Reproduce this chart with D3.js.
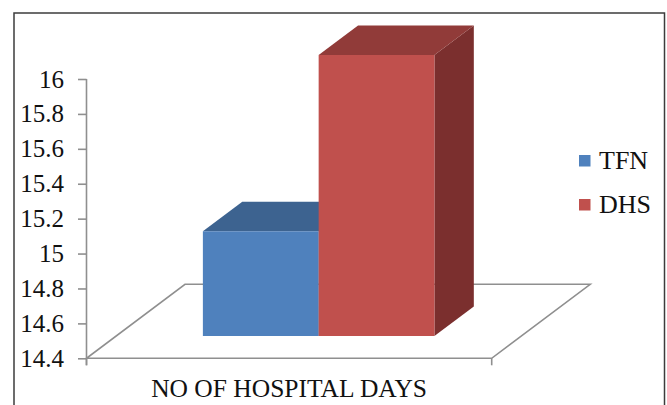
<!DOCTYPE html>
<html>
<head>
<meta charset="utf-8">
<script src="https://cdn.jsdelivr.net/npm/d3@7"></script>
<style>
  html, body { margin: 0; padding: 0; background: #fff; }
  svg { display: block; }
</style>
</head>
<body>
<svg id="chart" width="667" height="405"></svg>
<script>
// Data
const categories = ["NO OF HOSPITAL DAYS"];
const seriesNames = ["TFN", "DHS"];
const seriesValues = [15.0, 16.01];
const yTicks = [14.4, 14.6, 14.8, 15.0, 15.2, 15.4, 15.6, 15.8, 16.0];

// Face colours per series: front, top, side
const frontColors = ["#4f81bd", "#c0504d"];
const topColors = ["#3d6390", "#913b39"];
const sideColors = ["#34557c", "#7b2f2e"];

const FONT = "'Liberation Serif'";
const svg = d3.select("#chart").attr("font-family", FONT);

// Outer frame
svg.append("rect")
  .attr("x", 14).attr("y", 13)
  .attr("width", 650.5).attr("height", 420)
  .attr("fill", "none").attr("stroke", "#3c3c3c").attr("stroke-width", 1.5);

// Plot geometry (oblique 3-D projection)
const x0 = 86.5, x1 = 491.7;
const yTop = 79, yBase = 358.3;
const depth = [98.5, -74];           // floor depth vector
const barFront = 0.3, barBack = 0.7; // bar slab within the depth

const x = d3.scaleBand().domain(categories).range([x0, x1]).padding(0);
const xs = d3.scaleBand().domain(seriesNames).range([0, x.bandwidth()])
  .paddingInner(0).paddingOuter(0.75);
const y = d3.scaleLinear().domain([14.4, 16]).range([yBase, yTop]);

const gray = "#8f8f8f";

// Floor
const P = (px, py, d) => [px + depth[0] * d, py + depth[1] * d];
const floorPts = [P(x0, yBase, 0), P(x1, yBase, 0), P(x1, yBase, 1), P(x0, yBase, 1)];
svg.append("path")
  .attr("d", d3.line()(floorPts) + "Z")
  .attr("fill", "none").attr("stroke", gray).attr("stroke-width", 1.6)
  .attr("stroke-linejoin", "miter");

// Category tick marks below the floor front edge
[x0, x1].forEach(tx => {
  svg.append("line")
    .attr("x1", tx).attr("x2", tx).attr("y1", yBase).attr("y2", yBase + 7)
    .attr("stroke", gray).attr("stroke-width", 1.6);
});

// Value axis
const yAxis = d3.axisLeft(y)
  .tickValues(yTicks)
  .tickSize(8.5)
  .tickPadding(14)
  .tickFormat(d => String(+d.toFixed(1)));

const gy = svg.append("g").attr("transform", `translate(${x0},0)`).call(yAxis)
  .attr("font-family", FONT).attr("font-size", 25);
gy.select(".domain").remove();
gy.selectAll(".tick line").attr("stroke", gray).attr("stroke-width", 1.6);
gy.selectAll(".tick text").attr("fill", "#111").attr("font-family", FONT);
svg.append("line")
  .attr("x1", x0).attr("x2", x0).attr("y1", yTop).attr("y2", yBase + 7)
  .attr("stroke", gray).attr("stroke-width", 1.6);

// Bars (drawn left to right so the next bar hides the previous side)
const cat = categories[0];
seriesNames.forEach((name, i) => {
  const v = seriesValues[i];
  const left = x(cat) + xs(name);
  const right = left + xs.bandwidth();
  const yv = y(v), yb = y(14.4);
  const fl = P(left, yb, barFront), fr = P(right, yb, barFront);
  const tl = P(left, yv, barFront), tr = P(right, yv, barFront);
  const btl = P(left, yv, barBack), btr = P(right, yv, barBack);
  const bbr = P(right, yb, barBack);
  const g = svg.append("g");
  g.append("path").attr("d", d3.line()([fr, tr, btr, bbr]) + "Z")
    .attr("fill", sideColors[i]);
  g.append("path").attr("d", d3.line()([tl, tr, btr, btl]) + "Z")
    .attr("fill", topColors[i]);
  g.append("path").attr("d", d3.line()([fl, fr, tr, tl]) + "Z")
    .attr("fill", frontColors[i]);
});

// Category label
svg.append("text")
  .attr("x", x(cat) + x.bandwidth() / 2)
  .attr("y", 396.5)
  .attr("text-anchor", "middle")
  .attr("font-family", FONT)
  .attr("font-size", 25.5)
  .attr("fill", "#111")
  .text(cat);

// Legend
const legend = svg.append("g");
seriesNames.forEach((name, i) => {
  const ly = 155 + i * 44;
  legend.append("rect")
    .attr("x", 579).attr("y", ly)
    .attr("width", 11.5).attr("height", 11.5)
    .attr("fill", frontColors[i]);
  legend.append("text")
    .attr("x", 599).attr("y", ly + 13.5)
    .attr("font-family", FONT)
    .attr("font-size", 26)
    .attr("fill", "#111")
    .text(name);
});
</script>
</body>
</html>
